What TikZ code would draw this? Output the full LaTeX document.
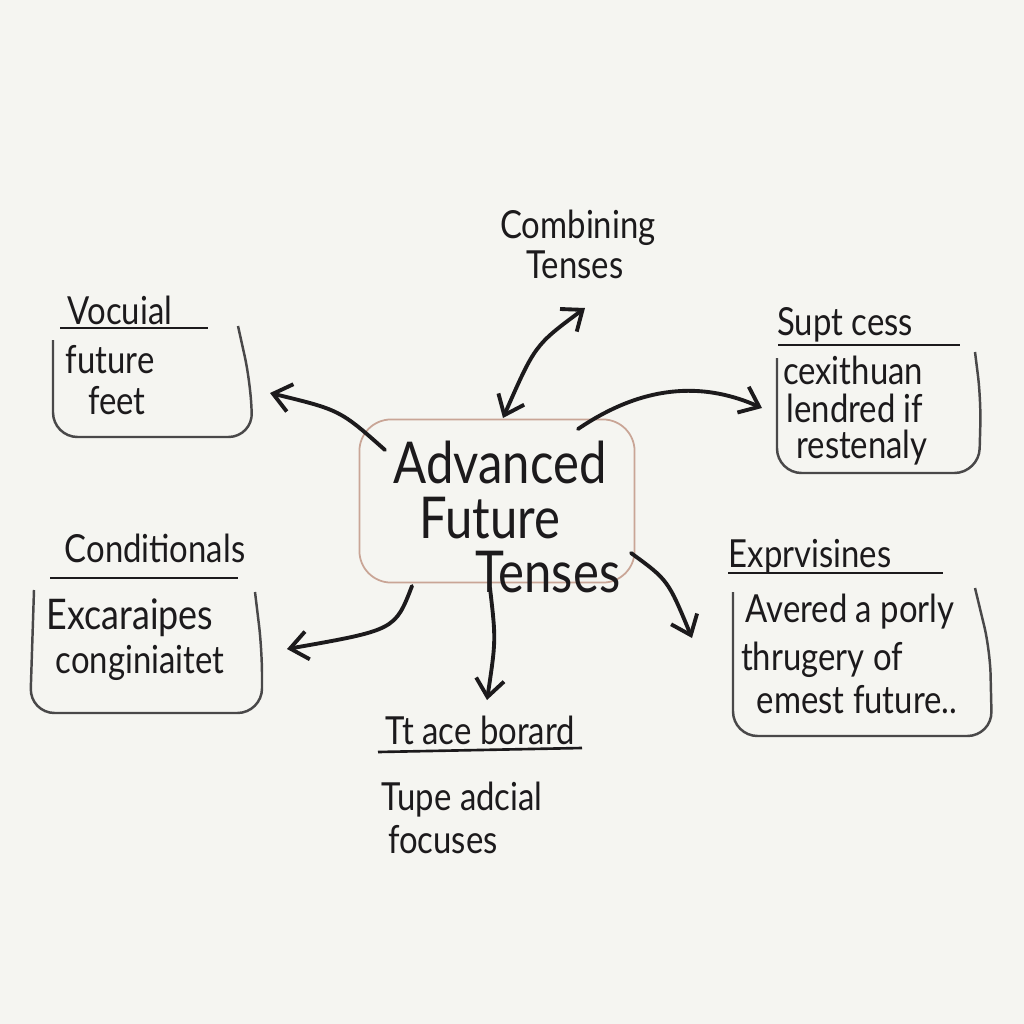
\documentclass[tikz,border=0pt]{standalone}
\usepackage{fontspec}
\setmainfont{Lato}[FakeStretch=0.85]
\usetikzlibrary{arrows.meta}
\definecolor{board}{HTML}{F5F5F1}
\definecolor{ink}{HTML}{1C1A1C}
\definecolor{rim}{HTML}{C9A596}
\begin{document}
\begin{tikzpicture}[x=0.01cm, y=-0.01cm, >={Straight Barb[length=5pt,width=8pt]},
  every node/.style={text=ink, inner sep=0pt},
  big/.style={font=\fontsize{16.4}{20}\selectfont},
  head/.style={font=\fontsize{11}{14}\selectfont},
  body/.style={font=\fontsize{11}{14}\selectfont},
  arr/.style={->, draw=ink, line width=1.1pt, line cap=round},
  rule/.style={draw=ink, line width=0.75pt},
  frame/.style={draw=ink!80, line width=0.7pt, rounded corners=7pt}]
  \fill[board] (0,0) rectangle (1024,1024);
  \useasboundingbox (0,0) rectangle (1024,1024);

  % centre
  \node[draw=rim, line width=0.5pt, rounded corners=9pt, minimum width=2.75cm, minimum height=1.63cm] (core) at (497,501) {};
  \node[big] (adv) at (500,462) {Advanced};
  \node[big] (fut) at (490,518) {Future};
  \node[big] (ten) at (548,572) {Tenses};

  % top
  \node[head] (comb) at (578,228) {Combining};
  \node[head] (combt) at (575,265) {Tenses};

  % top left
  \node[head] (voc) at (120,310) {Vocuial};
  \draw[rule] (60,328) -- (208,328);
  \draw[frame] (53,340) -- (53,437) -- (253,437) -- (250,380) -- (238,326);
  \node[body] (vocA) at (110,360) {future};
  \node[body] (vocB) at (117,401) {feet};

  % top right
  \node[head] (supt) at (845,325) {Supt cess};
  \draw[rule] (778,345) -- (960,345);
  \draw[frame] (777,358) -- (777,473) -- (979,473) -- (981,400) -- (975,352);
  \node[body] (suptA) at (853,370) {cexithuan};
  \node[body] (suptB) at (855,408) {lendred if};
  \node[body] (suptC) at (862,448) {restenaly};

  % left
  \node[head] (cond) at (155,548) {Conditionals};
  \draw[rule] (50,578) -- (238,578);
  \draw[frame] (34,590) -- (30,713) -- (262,713) -- (262,650) -- (255,592);
  \node[body, font=\fontsize{12}{14}\selectfont] (condA) at (130,618) {Excaraipes};
  \node[body] (condB) at (140,663) {conginiaitet};

  % right
  \node[head] (expr) at (810,557) {Exprvisines};
  \draw[rule] (728,573) -- (943,573);
  \draw[frame] (733,592) -- (733,736) -- (992,736) -- (990,650) -- (975,588);
  \node[body] (exprA) at (850,612) {Avered a porly};
  \node[body] (exprB) at (822,660) {thrugery of};
  \node[body] (exprC) at (857,700) {emest future..};

  % bottom
  \node[head] (base) at (480,730) {Tt ace borard};
  \draw[rule] (378,752) -- (582,748);
  \node[body] (baseA) at (462,800) {Tupe adcial};
  \node[body] (baseB) at (443,840) {focuses};

  % arrows
  \coordinate (combtip) at (585,308);
  \coordinate (coretop) at (503,418);
  \coordinate (nwfoot) at (385,450);
  \coordinate (voctip) at (270,393);
  \coordinate (nefoot) at (578,429);
  \coordinate (supttip) at (762,408);
  \coordinate (swfoot) at (412,586);
  \coordinate (condtip) at (287,649);
  \coordinate (sfoot) at (490,588);
  \coordinate (basetip) at (487,700);
  \coordinate (sefoot) at (631,553);
  \coordinate (exprtip) at (692,638);
  \draw[arr, <->] (combtip) .. controls (535,345) .. (coretop);
  \draw[arr] (nwfoot) .. controls (340,410) .. (voctip);
  \draw[arr] (nefoot) .. controls (650,380) and (710,385) .. (supttip);
  \draw[arr] (swfoot) .. controls (395,630) .. (condtip);
  \draw[arr] (sfoot) .. controls (496,640) .. (basetip);
  \draw[arr] (sefoot) .. controls (668,580) .. (exprtip);
\end{tikzpicture}
\end{document}
